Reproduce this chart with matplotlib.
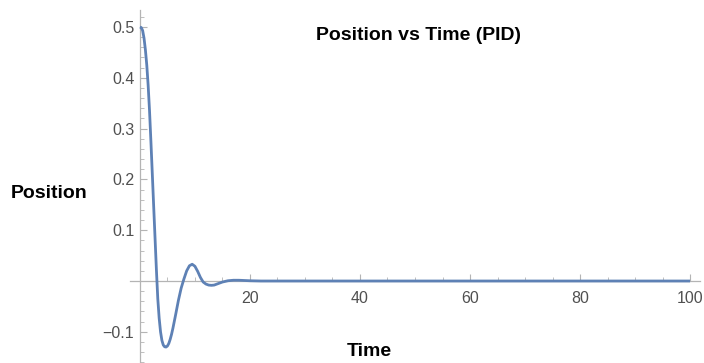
import matplotlib
matplotlib.use("Agg")
import matplotlib.pyplot as plt
from matplotlib.ticker import MultipleLocator, FixedLocator

# Closed-loop response of the PID-controlled system
time = [0, 0.25, 0.5, 0.75, 1.0, 1.25, 1.5, 1.75, 2.0, 2.25, 2.5, 2.75,
        3.0, 3.25, 3.5, 3.75, 4.0, 4.25, 4.5, 4.75, 5.0, 5.25, 5.5, 5.75,
        6.0, 6.5, 7.0, 7.5, 8.0, 8.5, 9.0, 9.5, 10.0, 10.5, 11.0, 11.5,
        12.0, 12.5, 13.0, 13.5, 14.0, 15.0, 16.0, 17.0, 18.0, 19.0, 20.0,
        22.0, 25.0, 30.0, 40.0, 50.0, 60.0, 70.0, 80.0, 90.0, 100.0]
position = [0.500, 0.499, 0.493, 0.478, 0.455, 0.425, 0.385, 0.335, 0.275,
            0.212, 0.148, 0.085, 0.022, -0.035, -0.073, -0.100, -0.117,
            -0.126, -0.1295, -0.130, -0.128, -0.123, -0.115, -0.105, -0.093,
            -0.066, -0.038, -0.014, 0.004, 0.020, 0.030, 0.033, 0.029, 0.019,
            0.007, -0.002, -0.006, -0.008, -0.0085, -0.008, -0.006, -0.002,
            0.0005, 0.0015, 0.0015, 0.001, 0.0005, 0.0, 0.0, 0.0, 0.0, 0.0,
            0.0, 0.0, 0.0, 0.0, 0.0]

x_ticks = [20, 40, 60, 80, 100]
y_ticks = [-0.1, 0.1, 0.2, 0.3, 0.4, 0.5]
y_tick_labels = ["\u22120.1", "0.1", "0.2", "0.3", "0.4", "0.5"]

plt.rcParams['font.family'] = ['Liberation Sans', 'DejaVu Sans']

fig = plt.figure(figsize=(7.04, 3.63), dpi=100)
ax = fig.add_axes([130 / 704, 0.0, 570 / 704, 353 / 363])

ax.plot(time, position, color="#5E81B5", lw=2.0, solid_capstyle="butt",
        solid_joinstyle="round", clip_on=False, zorder=3)

ax.set_xlim(-1.8, 101.8)
ax.set_ylim(-0.1614, 0.5335)

axis_gray = "#b4b4b4"
for side in ("top", "right"):
    ax.spines[side].set_visible(False)
ax.spines["left"].set_position(("data", 0))
ax.spines["bottom"].set_position(("data", 0))
for side in ("left", "bottom"):
    ax.spines[side].set_color(axis_gray)
    ax.spines[side].set_linewidth(0.9)

ax.xaxis.set_major_locator(FixedLocator(x_ticks))
ax.xaxis.set_minor_locator(MultipleLocator(5))
ax.set_xticklabels([str(v) for v in x_ticks])
ax.yaxis.set_major_locator(FixedLocator(y_ticks))
ax.yaxis.set_minor_locator(MultipleLocator(0.02))
ax.set_yticklabels(y_tick_labels)

ax.tick_params(axis="both", which="major", direction="in", length=5,
               width=0.8, color=axis_gray, labelsize=11.5, labelcolor="#505050")
ax.tick_params(axis="both", which="minor", direction="in", length=3,
               width=0.6, color=axis_gray)
ax.tick_params(axis="x", which="major", pad=7)
ax.tick_params(axis="y", which="major", pad=4)

fig.text(418 / 704, 1 - 35 / 363, "Position vs Time (PID)", ha="center",
         va="center", fontsize=14, fontweight="bold", color="black")
fig.text(49 / 704, 1 - 193 / 363, "Position", ha="center", va="center",
         fontsize=14, fontweight="bold", color="black")
fig.text(369 / 704, 1 - 351 / 363, "Time", ha="center", va="center",
         fontsize=14, fontweight="bold", color="black")

fig.savefig("out.png", dpi=100)
